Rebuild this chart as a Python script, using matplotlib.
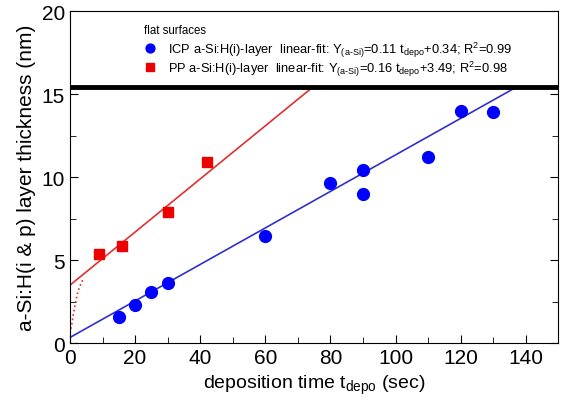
import matplotlib
matplotlib.use("Agg")
import matplotlib.pyplot as plt
from matplotlib.patches import Rectangle
import numpy as np

plt.rcParams['font.family'] = ['Liberation Sans', 'DejaVu Sans']
plt.rcParams['mathtext.fontset'] = 'custom'
plt.rcParams['mathtext.rm'] = 'Liberation Sans'
plt.rcParams['mathtext.it'] = 'Liberation Sans'

# ICP a-Si:H(i) layer
icp_t = [15, 20, 25, 30, 60, 80, 90, 90, 110, 120, 130]
icp_d = [1.6, 2.3, 3.1, 3.6, 6.45, 9.65, 10.4, 9.0, 11.2, 14.0, 13.9]
icp_fit = (0.11, 0.34)

# PP a-Si:H(i) layer
pp_t = [9, 16, 30, 42]
pp_d = [5.35, 5.85, 7.9, 10.9]
pp_fit = (0.16, 3.49)

# dotted red trace near origin
dot_t = [0.0, 0.5, 1.0, 1.8, 2.5, 3.2, 3.9]
dot_d = [0.6, 1.05, 1.7, 2.55, 3.15, 3.5, 3.8]

fig = plt.figure(figsize=(5.76, 4.02), dpi=100)
ax = fig.add_axes([0.1215, 0.144, 0.848, 0.826])

tt = np.array([0, 150])
ax.plot(tt, icp_fit[0] * tt + icp_fit[1], color='#3030cc', lw=1.2, zorder=2)
ax.plot(tt, pp_fit[0] * tt + pp_fit[1], color='#e03030', lw=1.2, zorder=2)
ax.plot(dot_t, dot_d, ls=':', color='#e03030', lw=1.2, zorder=2)
h1, = ax.plot(icp_t, icp_d, 'o', color='#0000ff', ms=8.5, zorder=3)
h2, = ax.plot(pp_t, pp_d, 's', color='#ee0000', ms=7.5, zorder=3)

ax.set_xlim(0, 150)
ax.set_ylim(0, 20)
ax.set_xticks([0, 20, 40, 60, 80, 100, 120, 140])
ax.set_xticks(np.arange(10, 150, 20), minor=True)
ax.set_yticks([0, 5, 10, 15, 20])
ax.set_yticks(np.arange(2.5, 20, 5), minor=True)
ax.tick_params(direction='in', which='both', top=True, right=True, labelsize=15)
ax.tick_params(which='major', length=6)
ax.tick_params(which='minor', length=4)
ax.set_xlabel('deposition time t$_{depo}$ (sec)', fontsize=14)
ax.set_ylabel('a-Si:H(i & p) layer thickness (nm)', fontsize=15)

# legend box across the top
box_bottom = 0.772
ax.add_patch(Rectangle((0, box_bottom), 1, 1 - box_bottom, transform=ax.transAxes,
                       facecolor='white', edgecolor='black', lw=0.8, zorder=5))
ax.plot([0, 1], [box_bottom, box_bottom], transform=ax.transAxes, color='black',
        lw=3.5, zorder=6, solid_capstyle='butt', clip_on=False)

lab1 = r'ICP a-Si:H(i)-layer  linear-fit: Y$_{\text{(a-Si)}}$=0.11 t$_{depo}$+0.34; R$^2$=0.99'
lab2 = r'PP a-Si:H(i)-layer  linear-fit: Y$_{\text{(a-Si)}}$=0.16 t$_{depo}$+3.49; R$^2$=0.98'
leg = ax.legend([h1, h2], [lab1, lab2], title='flat surfaces', loc='upper left',
                bbox_to_anchor=(0.13, 0.993), frameon=False, fontsize=9.3,
                title_fontsize=8.3, markerscale=0.75, handlelength=1.0,
                handletextpad=0.9, labelspacing=-0.03, borderpad=0.3)
leg._legend_box.align = 'left'
leg._legend_box.sep = 3
leg.set_zorder(7)

fig.savefig('out.png', dpi=100)
